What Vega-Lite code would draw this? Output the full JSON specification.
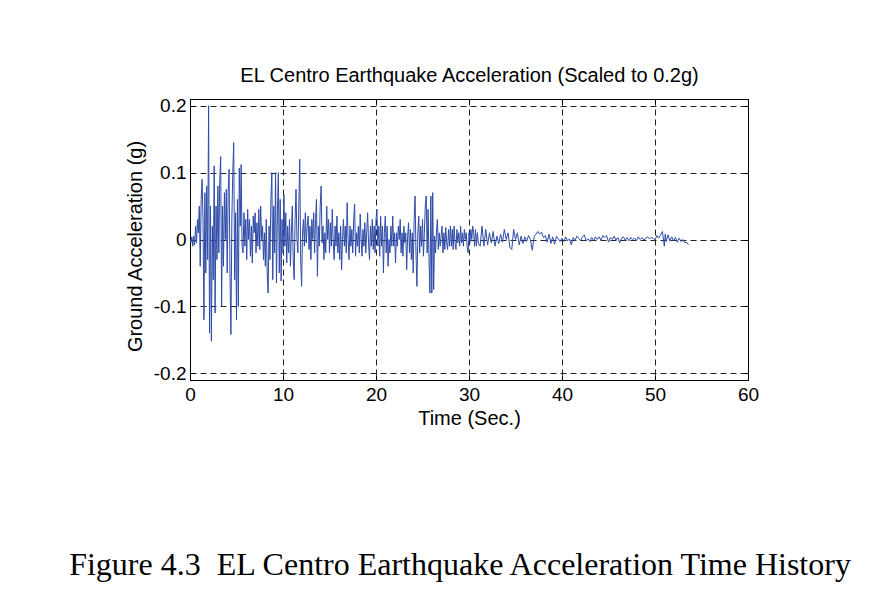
{
  "$schema": "https://vega.github.io/schema/vega-lite/v6.json",
  "width": 558,
  "height": 281,
  "autosize": {"type": "none"},
  "padding": {"left": 190, "top": 99, "right": 141, "bottom": 211},
  "background": "white",
  "title": {
    "text": "Figure 4.3\u00a0\u00a0EL Centro Earthquake Acceleration Time History",
    "orient": "bottom",
    "anchor": "middle",
    "font": "Liberation Serif",
    "fontSize": 32,
    "fontWeight": "normal",
    "color": "black",
    "offset": 122,
    "dx": -9
  },
  "data": {"values": [
{"t":0,"a":0},{"t":0.1,"a":-0.005},{"t":0.2,"a":0.004},{"t":0.3,"a":-0.01},{"t":0.4,"a":0.005},{"t":0.5,"a":-0.008},{"t":0.6,"a":0.02},{"t":0.7,"a":-0.005},{"t":0.8,"a":0.03},{"t":0.9,"a":0.01},
{"t":1.0,"a":0.05},{"t":1.1,"a":-0.04},{"t":1.2,"a":0.06},{"t":1.3,"a":0.09},{"t":1.4,"a":0.03},{"t":1.5,"a":-0.12},{"t":1.6,"a":0.07},{"t":1.7,"a":-0.05},{"t":1.8,"a":0.08},{"t":1.9,"a":-0.03},
{"t":2.0,"a":0.2},{"t":2.1,"a":-0.14},{"t":2.2,"a":0.05},{"t":2.3,"a":-0.152},{"t":2.4,"a":0.02},{"t":2.5,"a":-0.06},{"t":2.6,"a":0.11},{"t":2.7,"a":-0.11},{"t":2.8,"a":0.05},{"t":2.9,"a":-0.03},
{"t":3.0,"a":0.08},{"t":3.1,"a":-0.02},{"t":3.2,"a":0.09},{"t":3.3,"a":0.124},{"t":3.4,"a":-0.1},{"t":3.5,"a":0.05},{"t":3.6,"a":-0.04},{"t":3.7,"a":0.07},{"t":3.8,"a":0.0},{"t":3.9,"a":0.075},
{"t":4.0,"a":-0.05},{"t":4.1,"a":0.07},{"t":4.2,"a":0.105},{"t":4.3,"a":-0.05},{"t":4.4,"a":-0.142},{"t":4.5,"a":0.03},{"t":4.6,"a":0.1},{"t":4.7,"a":0.145},{"t":4.8,"a":-0.06},{"t":4.9,"a":0.04},
{"t":5.0,"a":-0.12},{"t":5.1,"a":0.06},{"t":5.2,"a":-0.1},{"t":5.3,"a":0.107},{"t":5.4,"a":0.02},{"t":5.5,"a":0.112},{"t":5.6,"a":-0.01},{"t":5.7,"a":-0.02},{"t":5.8,"a":0.04},{"t":5.9,"a":-0.01},
{"t":6.0,"a":0.03},{"t":6.1,"a":-0.03},{"t":6.2,"a":0.045},{"t":6.3,"a":0.0},{"t":6.4,"a":0.03},{"t":6.5,"a":-0.025},{"t":6.6,"a":0.02},{"t":6.7,"a":-0.035},{"t":6.8,"a":0.035},{"t":6.9,"a":0.01},
{"t":7.0,"a":0.04},{"t":7.1,"a":-0.02},{"t":7.2,"a":0.025},{"t":7.3,"a":-0.01},{"t":7.4,"a":0.045},{"t":7.5,"a":-0.015},{"t":7.6,"a":0.05},{"t":7.7,"a":0.0},{"t":7.8,"a":0.02},{"t":7.9,"a":-0.03},
{"t":8.0,"a":0.01},{"t":8.1,"a":-0.04},{"t":8.2,"a":0.03},{"t":8.3,"a":-0.05},{"t":8.4,"a":-0.08},{"t":8.5,"a":0.02},{"t":8.6,"a":-0.03},{"t":8.7,"a":0.06},{"t":8.8,"a":0.1},{"t":8.9,"a":-0.06},
{"t":9.0,"a":0.05},{"t":9.1,"a":-0.02},{"t":9.2,"a":0.1},{"t":9.3,"a":-0.065},{"t":9.4,"a":0.04},{"t":9.5,"a":0.1},{"t":9.6,"a":-0.05},{"t":9.7,"a":0.06},{"t":9.8,"a":-0.062},{"t":9.9,"a":0.03},
{"t":10.0,"a":-0.02},{"t":10.1,"a":0.067},{"t":10.2,"a":-0.01},{"t":10.3,"a":0.04},{"t":10.4,"a":-0.035},{"t":10.5,"a":0.02},{"t":10.6,"a":-0.02},{"t":10.7,"a":0.03},{"t":10.8,"a":-0.04},{"t":10.9,"a":0.01},
{"t":11.0,"a":0.05},{"t":11.1,"a":-0.03},{"t":11.2,"a":-0.06},{"t":11.3,"a":0.03},{"t":11.4,"a":0.075},{"t":11.5,"a":0.0},{"t":11.6,"a":-0.02},{"t":11.7,"a":0.05},{"t":11.8,"a":0.12},{"t":11.9,"a":-0.03},
{"t":12.0,"a":-0.07},{"t":12.1,"a":0.01},{"t":12.2,"a":0.03},{"t":12.3,"a":-0.01},{"t":12.4,"a":0.04},{"t":12.5,"a":-0.005},{"t":12.6,"a":0.02},{"t":12.7,"a":0.035},{"t":12.8,"a":-0.015},{"t":12.9,"a":0.02},
{"t":13.0,"a":-0.03},{"t":13.1,"a":0.03},{"t":13.2,"a":0.0},{"t":13.3,"a":0.04},{"t":13.4,"a":-0.02},{"t":13.5,"a":0.03},{"t":13.6,"a":0.06},{"t":13.7,"a":-0.055},{"t":13.8,"a":0.02},{"t":13.9,"a":-0.01},
{"t":14.0,"a":0.05},{"t":14.1,"a":0.08},{"t":14.2,"a":-0.005},{"t":14.3,"a":0.02},{"t":14.4,"a":-0.03},{"t":14.5,"a":0.01},{"t":14.6,"a":-0.02},{"t":14.7,"a":0.05},{"t":14.8,"a":0.0},{"t":14.9,"a":0.03},
{"t":15.0,"a":-0.02},{"t":15.1,"a":0.025},{"t":15.2,"a":-0.01},{"t":15.3,"a":0.045},{"t":15.4,"a":-0.005},{"t":15.5,"a":-0.03},{"t":15.6,"a":0.02},{"t":15.7,"a":-0.01},{"t":15.8,"a":0.035},{"t":15.9,"a":-0.02},
{"t":16.0,"a":0.01},{"t":16.1,"a":-0.03},{"t":16.2,"a":0.02},{"t":16.3,"a":-0.045},{"t":16.4,"a":0.0},{"t":16.5,"a":0.03},{"t":16.6,"a":-0.01},{"t":16.7,"a":0.02},{"t":16.8,"a":-0.02},{"t":16.9,"a":0.055},
{"t":17.0,"a":0.0},{"t":17.1,"a":-0.03},{"t":17.2,"a":0.02},{"t":17.3,"a":-0.01},{"t":17.4,"a":0.015},{"t":17.5,"a":-0.02},{"t":17.6,"a":0.03},{"t":17.7,"a":0.053},{"t":17.8,"a":-0.025},{"t":17.9,"a":0.01},
{"t":18.0,"a":-0.01},{"t":18.1,"a":0.02},{"t":18.2,"a":-0.02},{"t":18.3,"a":0.038},{"t":18.4,"a":0.0},{"t":18.5,"a":-0.025},{"t":18.6,"a":0.015},{"t":18.7,"a":-0.01},{"t":18.8,"a":0.025},{"t":18.9,"a":-0.02},
{"t":19.0,"a":0.01},{"t":19.1,"a":0.04},{"t":19.2,"a":-0.005},{"t":19.3,"a":-0.03},{"t":19.4,"a":0.02},{"t":19.5,"a":-0.01},{"t":19.6,"a":0.03},{"t":19.7,"a":-0.015},{"t":19.8,"a":0.02},{"t":19.9,"a":-0.02},
{"t":20.0,"a":0.03},{"t":20.1,"a":0.045},{"t":20.2,"a":-0.01},{"t":20.3,"a":0.02},{"t":20.4,"a":-0.025},{"t":20.5,"a":0.035},{"t":20.6,"a":-0.01},{"t":20.7,"a":0.02},{"t":20.8,"a":-0.05},{"t":20.9,"a":0.01},
{"t":21.0,"a":0.035},{"t":21.1,"a":-0.02},{"t":21.2,"a":0.02},{"t":21.3,"a":-0.04},{"t":21.4,"a":0.0},{"t":21.5,"a":-0.02},{"t":21.6,"a":0.02},{"t":21.7,"a":-0.01},{"t":21.8,"a":0.035},{"t":21.9,"a":-0.01},
{"t":22.0,"a":0.01},{"t":22.1,"a":-0.035},{"t":22.2,"a":0.01},{"t":22.3,"a":-0.01},{"t":22.4,"a":0.02},{"t":22.5,"a":0.0},{"t":22.6,"a":0.03},{"t":22.7,"a":-0.02},{"t":22.8,"a":0.01},{"t":22.9,"a":-0.025},
{"t":23.0,"a":0.02},{"t":23.1,"a":-0.005},{"t":23.2,"a":0.01},{"t":23.3,"a":-0.045},{"t":23.4,"a":0.005},{"t":23.5,"a":0.025},{"t":23.6,"a":-0.02},{"t":23.7,"a":0.015},{"t":23.8,"a":-0.03},{"t":23.9,"a":0.01},
{"t":24.0,"a":-0.05},{"t":24.1,"a":0.03},{"t":24.2,"a":0.065},{"t":24.3,"a":-0.02},{"t":24.4,"a":-0.07},{"t":24.5,"a":0.01},{"t":24.6,"a":0.035},{"t":24.7,"a":-0.02},{"t":24.8,"a":0.02},{"t":24.9,"a":-0.01},
{"t":25.0,"a":0.03},{"t":25.1,"a":-0.025},{"t":25.2,"a":0.01},{"t":25.3,"a":0.05},{"t":25.4,"a":0.065},{"t":25.5,"a":-0.02},{"t":25.6,"a":0.045},{"t":25.7,"a":-0.03},{"t":25.8,"a":-0.08},{"t":25.9,"a":0.065},
{"t":26.0,"a":-0.08},{"t":26.1,"a":0.07},{"t":26.2,"a":-0.075},{"t":26.3,"a":0.005},{"t":26.4,"a":-0.02},{"t":26.5,"a":0.01},{"t":26.6,"a":0.03},{"t":26.7,"a":-0.015},{"t":26.8,"a":0.01},{"t":26.9,"a":-0.01},
{"t":27.0,"a":0.005},{"t":27.1,"a":0.02},{"t":27.2,"a":-0.02},{"t":27.3,"a":0.01},{"t":27.4,"a":-0.015},{"t":27.5,"a":0.018},{"t":27.6,"a":-0.005},{"t":27.7,"a":-0.015},{"t":27.8,"a":0.015},{"t":27.9,"a":-0.01},
{"t":28.0,"a":0.02},{"t":28.1,"a":-0.01},{"t":28.2,"a":0.015},{"t":28.3,"a":-0.015},{"t":28.4,"a":0.02},{"t":28.5,"a":-0.005},{"t":28.6,"a":-0.015},{"t":28.7,"a":0.015},{"t":28.8,"a":-0.005},{"t":28.9,"a":0.01},
{"t":29.0,"a":-0.01},{"t":29.1,"a":0.02},{"t":29.2,"a":-0.005},{"t":29.3,"a":0.01},{"t":29.4,"a":-0.01},{"t":29.5,"a":0.015},{"t":29.6,"a":0.0},{"t":29.7,"a":0.01},{"t":29.8,"a":-0.01},{"t":29.9,"a":-0.02},
{"t":30.0,"a":0.01},{"t":30.1,"a":-0.005},{"t":30.2,"a":0.015},{"t":30.3,"a":0.0},{"t":30.4,"a":0.02},{"t":30.5,"a":0.01},{"t":30.6,"a":-0.01},{"t":30.7,"a":0.015},{"t":30.8,"a":-0.01},{"t":30.9,"a":0.01},
{"t":31.0,"a":-0.005},{"t":31.2,"a":-0.01},{"t":31.4,"a":0.02},{"t":31.6,"a":-0.01},{"t":31.8,"a":0.015},{"t":32.0,"a":-0.008},{"t":32.2,"a":0.01},{"t":32.4,"a":-0.005},{"t":32.6,"a":0.012},{"t":32.8,"a":-0.01},
{"t":33.0,"a":0.005},{"t":33.2,"a":-0.006},{"t":33.4,"a":0.008},{"t":33.6,"a":-0.004},{"t":33.8,"a":0.015},{"t":34.0,"a":0.0},{"t":34.2,"a":0.01},{"t":34.4,"a":-0.012},{"t":34.6,"a":-0.015},{"t":34.8,"a":0.015},
{"t":35.0,"a":0.0},{"t":35.2,"a":0.01},{"t":35.4,"a":-0.008},{"t":35.6,"a":0.005},{"t":35.8,"a":-0.006},{"t":36.0,"a":0.004},{"t":36.2,"a":-0.003},{"t":36.4,"a":0.006},{"t":36.6,"a":0.0},{"t":36.8,"a":-0.016},
{"t":37.0,"a":0.004},{"t":37.2,"a":0.008},{"t":37.4,"a":0.012},{"t":37.6,"a":0.008},{"t":37.8,"a":0.011},{"t":38.0,"a":0.003},{"t":38.2,"a":0.006},{"t":38.4,"a":-0.004},{"t":38.6,"a":0.008},{"t":38.8,"a":-0.006},
{"t":39.0,"a":0.004},{"t":39.2,"a":-0.007},{"t":39.4,"a":0.005},{"t":39.6,"a":0.001},{"t":39.8,"a":-0.003},{"t":40.0,"a":0.002},{"t":40.2,"a":-0.003},{"t":40.4,"a":0.004},{"t":40.6,"a":-0.002},{"t":40.8,"a":0.001},
{"t":41.0,"a":-0.008},{"t":41.2,"a":0.003},{"t":41.4,"a":-0.002},{"t":41.6,"a":0.005},{"t":41.8,"a":0.002},{"t":42.0,"a":-0.002},{"t":42.2,"a":0.004},{"t":42.4,"a":0.007},{"t":42.6,"a":-0.002},{"t":42.8,"a":0.001},
{"t":43.0,"a":-0.003},{"t":43.2,"a":0.003},{"t":43.4,"a":-0.002},{"t":43.6,"a":0.004},{"t":43.8,"a":0.0},{"t":44.0,"a":0.004},{"t":44.2,"a":-0.001},{"t":44.4,"a":0.006},{"t":44.6,"a":0.003},{"t":44.8,"a":0.006},
{"t":45.0,"a":-0.004},{"t":45.2,"a":0.003},{"t":45.4,"a":0.0},{"t":45.6,"a":0.005},{"t":45.8,"a":-0.001},{"t":46.0,"a":0.003},{"t":46.2,"a":-0.005},{"t":46.4,"a":0.002},{"t":46.6,"a":0.004},{"t":46.8,"a":-0.001},
{"t":47.0,"a":0.003},{"t":47.2,"a":-0.002},{"t":47.4,"a":0.003},{"t":47.6,"a":0.0},{"t":47.8,"a":0.002},{"t":48.0,"a":-0.002},{"t":48.2,"a":0.004},{"t":48.4,"a":0.0},{"t":48.6,"a":0.003},{"t":48.8,"a":-0.001},
{"t":49.0,"a":0.002},{"t":49.2,"a":0.004},{"t":49.4,"a":0.001},{"t":49.6,"a":0.003},{"t":49.8,"a":0.002},{"t":50.0,"a":-0.001},{"t":50.2,"a":0.006},{"t":50.4,"a":0.002},{"t":50.6,"a":0.007},{"t":50.8,"a":0.012},
{"t":51.0,"a":-0.01},{"t":51.1,"a":0.008},{"t":51.2,"a":-0.003},{"t":51.4,"a":0.007},{"t":51.6,"a":-0.002},{"t":51.8,"a":0.004},{"t":52.0,"a":-0.002},{"t":52.2,"a":0.003},{"t":52.4,"a":-0.004},{"t":52.6,"a":0.002},
{"t":52.8,"a":-0.003},{"t":53.0,"a":0.0},{"t":53.2,"a":-0.005},{"t":53.4,"a":-0.004},{"t":53.6,"a":-0.008}
  ]},
  "layer": [
    {
      "mark": {"type": "line", "color": "#2e4ba8", "strokeWidth": 1, "clip": true},
      "encoding": {
        "x": {
          "field": "t", "type": "quantitative",
          "scale": {"domain": [0, 60], "nice": false, "zero": false},
          "axis": {
            "orient": "bottom",
            "values": [0, 10, 20, 30, 40, 50, 60],
            "title": "Time (Sec.)",
            "titlePadding": 4,
            "titleFontSize": 20,
            "grid": true,
            "gridColor": "#222222",
            "gridDash": [6, 4],
            "gridWidth": 1,
            "gridOpacity": 1,
            "tickSize": -5,
            "labelPadding": 10
          }
        },
        "y": {
          "field": "a", "type": "quantitative",
          "scale": {"domain": [-0.21, 0.21], "nice": false, "zero": false},
          "axis": {
            "orient": "left",
            "values": [-0.2, -0.1, 0, 0.1, 0.2],
            "labelExpr": "'' + datum.value",
            "title": "Ground Acceleration (g)",
            "titleFontSize": 20,
            "titleY": 147,
            "grid": true,
            "gridColor": "#222222",
            "gridDash": [6, 4],
            "gridWidth": 1,
            "gridOpacity": 1,
            "tickSize": -5,
            "labelPadding": 9,
            "titlePadding": 8
          }
        }
      }
    },
    {
      "mark": {"type": "line", "opacity": 0},
      "encoding": {
        "x": {
          "field": "t", "type": "quantitative",
          "scale": {"domain": [0, 60], "nice": false, "zero": false},
          "axis": {
            "orient": "top",
            "values": [0, 10, 20, 30, 40, 50, 60],
            "labels": false,
            "grid": false,
            "tickSize": -5,
            "title": "EL Centro Earthquake Acceleration (Scaled to 0.2g)",
            "titleFontSize": 20,
            "titlePadding": 13
          }
        },
        "y": {
          "field": "a", "type": "quantitative",
          "scale": {"domain": [-0.21, 0.21], "nice": false, "zero": false},
          "axis": {
            "orient": "right",
            "values": [-0.2, -0.1, 0, 0.1, 0.2],
            "labels": false,
            "grid": false,
            "tickSize": -5,
            "title": null
          }
        }
      }
    }
  ],
  "resolve": {"axis": {"x": "independent", "y": "independent"}},
  "config": {
    "view": {"stroke": "black", "strokeWidth": 1},
    "axis": {
      "domainColor": "black",
      "domainWidth": 1,
      "tickColor": "black",
      "tickWidth": 1,
      "labelFont": "Liberation Sans",
      "labelFontSize": 19,
      "labelColor": "black",
      "titleFont": "Liberation Sans",
      "titleFontSize": 19,
      "titleFontWeight": "normal",
      "titleColor": "black",
      "labelFlush": false,
      "labelOverlap": false
    }
  }
}
